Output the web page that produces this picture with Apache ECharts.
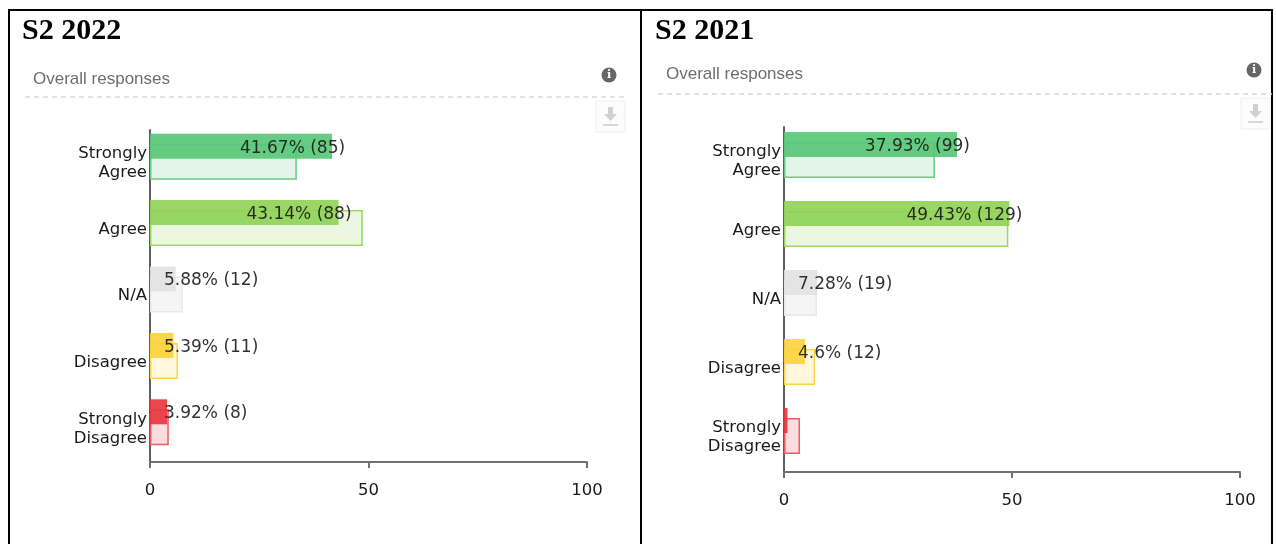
<!DOCTYPE html>
<html>
<head>
<meta charset="utf-8">
<script src="https://cdn.jsdelivr.net/npm/echarts@6/dist/echarts.min.js"></script>
<style>
  html, body { margin: 0; padding: 0; background: #fff; }
  #chart { width: 1276px; height: 544px; }
</style>
</head>
<body>
<div id="chart"></div>
<script>
  // categories, top to bottom
  const categories = ['Strongly Agree', 'Agree', 'N/A', 'Disagree', 'Strongly Disagree'];

  // S2 2022
  const pct2022 = [41.67, 43.14, 5.88, 5.39, 3.92];
  const count2022 = [85, 88, 12, 11, 8];
  const compare2022 = [33.6, 48.7, 7.5, 6.4, 4.3];

  // S2 2021
  const pct2021 = [37.93, 49.43, 7.28, 4.6, 0.77];
  const count2021 = [99, 129, 19, 12, 2];
  const compare2021 = [33.1, 49.2, 7.2, 6.8, 3.5];

  const xTicks = [0, 50, 100];

  // colours per category
  const darkColors = ['#56c676', '#8fd255', '#e2e2e2', '#fdd23a', '#e8343d'];
  const lightFill = ['rgba(86,198,118,0.17)', 'rgba(143,210,85,0.17)', 'rgba(225,225,225,0.35)', 'rgba(253,210,58,0.18)', 'rgba(232,52,61,0.17)'];
  const lightBorder = ['#66cb84', '#9ad866', '#e8e8e8', '#fcd44d', '#ee5b62'];

  const font = 'DejaVu Sans';
  const textColor = '#1a1a1a';
  const chart = echarts.init(document.getElementById('chart'));

  function darkSeries(idx, pct, counts) {
    return {
      type: 'bar',
      xAxisIndex: idx,
      yAxisIndex: idx,
      barWidth: 25,
      barGap: '-60%',
      z: 3,
      data: pct.map((v, i) => ({
        value: v,
        itemStyle: { color: darkColors[i], opacity: 0.9 },
        label: v < 1 ? { show: false } :
          v >= 20 ? { position: 'insideRight', distance: 0, offset: [13, 2] }
                  : { position: 'insideLeft', distance: 14, offset: [0, 2] }
      })),
      label: {
        show: true,
        color: textColor,
        fontFamily: font,
        fontSize: 17,
        formatter: p => p.value + '% (' + counts[p.dataIndex] + ')'
      }
    };
  }

  function lightSeries(idx, vals) {
    return {
      type: 'bar',
      xAxisIndex: idx,
      yAxisIndex: idx,
      barWidth: 36,
      barGap: '-60%',
      z: 2,
      data: vals.map((v, i) => ({
        value: v,
        itemStyle: { color: lightFill[i], borderColor: lightBorder[i], borderWidth: 1.5 }
      }))
    };
  }

  // empty spacer column so the bar pair sits above the category centre
  function spacer(idx) {
    return {
      type: 'bar', xAxisIndex: idx, yAxisIndex: idx,
      barWidth: 34.6, barGap: '-60%', silent: true, data: []
    };
  }

  function xAxis(idx) {
    return {
      gridIndex: idx,
      type: 'value',
      min: xTicks[0],
      max: xTicks[xTicks.length - 1],
      interval: xTicks[1] - xTicks[0],
      splitLine: { show: false },
      axisLine: { show: true, lineStyle: { color: '#707070', width: 2 } },
      axisTick: { show: true, length: 6, lineStyle: { color: '#707070', width: 2 } },
      axisLabel: { color: textColor, fontFamily: font, fontSize: 16.5, margin: 20 }
    };
  }

  function yAxis(idx) {
    return {
      gridIndex: idx,
      type: 'category',
      inverse: true,
      data: categories,
      axisLine: { show: true, lineStyle: { color: '#606060', width: 2 } },
      axisTick: { show: false },
      axisLabel: {
        color: textColor, fontFamily: font, fontSize: 16.5, margin: 3, lineHeight: 19,
        formatter: v => v.replace('Strongly ', 'Strongly\n')
      }
    };
  }

  function header(x0, x1, titleY, subY, lineY, title) {
    return [
      { type: 'text', left: x0 + 12, top: titleY - 13,
        style: { text: title, font: 'bold 30px "Liberation Serif"', fill: '#000' } },
      { type: 'text', left: x0 + 23, top: subY - 8,
        style: { text: 'Overall responses', font: '17px "Liberation Sans"', fill: '#6e6e6e' } },
      { type: 'line', shape: { x1: x0 + 15, y1: lineY, x2: x1, y2: lineY },
        style: { stroke: '#d9d9d9', lineWidth: 1.5, lineDash: [5, 4] } },
      { type: 'circle', shape: { cx: x1 - 18, cy: subY - 4, r: 7.5 }, style: { fill: '#666' } },
      { type: 'text', x: x1 - 18, y: subY - 4,
        style: { text: 'i', font: 'bold 11px "DejaVu Serif"', fill: '#fff', align: 'center', verticalAlign: 'middle' } },
      { type: 'rect', shape: { x: x1 - 31, y: lineY + 4, width: 29, height: 31 },
        style: { fill: '#fcfcfc', stroke: '#efefef', lineWidth: 1 } },
      { type: 'polygon',
        shape: { points: [[x1 - 19, lineY + 10], [x1 - 14, lineY + 10], [x1 - 14, lineY + 17], [x1 - 10, lineY + 17],
                          [x1 - 16.5, lineY + 24], [x1 - 23, lineY + 17], [x1 - 19, lineY + 17]] },
        style: { fill: '#d0d0d0' } },
      { type: 'rect', shape: { x: x1 - 24, y: lineY + 27, width: 15, height: 2 }, style: { fill: '#d8d8d8' } }
    ];
  }

  const option = {
    animation: false,
    backgroundColor: '#fff',
    grid: [
      { left: 150, top: 130, width: 437, height: 332 },
      { left: 784, top: 127, width: 456, height: 345 }
    ],
    xAxis: [xAxis(0), xAxis(1)],
    yAxis: [yAxis(0), yAxis(1)],
    series: [
      darkSeries(0, pct2022, count2022), lightSeries(0, compare2022), spacer(0),
      darkSeries(1, pct2021, count2021), lightSeries(1, compare2021), spacer(1)
    ],
    graphic: [
      { type: 'rect', shape: { x: 9, y: 10, width: 1263, height: 545 },
        style: { fill: 'none', stroke: '#000', lineWidth: 2 } },
      { type: 'line', shape: { x1: 641, y1: 10, x2: 641, y2: 544 },
        style: { stroke: '#000', lineWidth: 2 } }
    ].concat(header(10, 627, 29, 79, 97, 'S2 2022'), header(643, 1272, 29, 74, 94, 'S2 2021'))
  };

  chart.setOption(option);
</script>
</body>
</html>
